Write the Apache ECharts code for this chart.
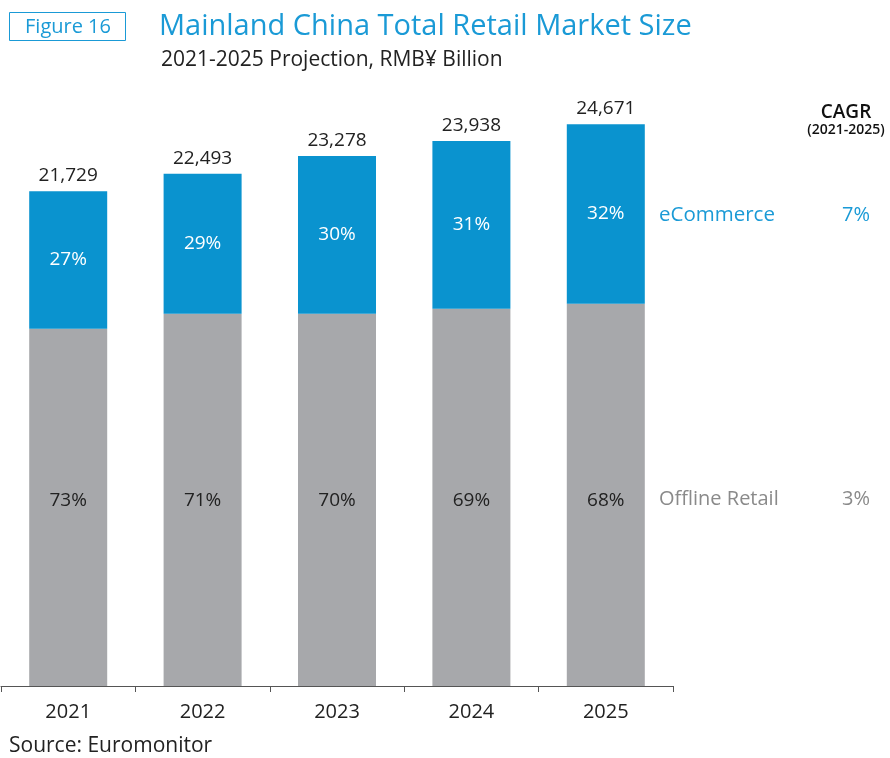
<!DOCTYPE html>
<html><head><meta charset="utf-8">
<script src="https://cdn.jsdelivr.net/npm/echarts@6/dist/echarts.min.js"></script>
<style>html,body{margin:0;padding:0;background:#fff}#c{width:890px;height:758px}</style>
</head><body><div id="c"></div>
<script>
const years = ['2021','2022','2023','2024','2025'];
const totals = [21729, 22493, 23278, 23938, 24671];
const offline = [15690, 16350, 16350, 16570, 16790];
const ecommerce = [6039, 6143, 6928, 7368, 7881];
const ecomShare = ['27%','29%','30%','31%','32%'];
const offlineShare = ['73%','71%','70%','69%','68%'];
const cagr = {eCommerce: '7%', offline: '3%'};

const FONT = '"Open Sans", Lato, sans-serif';
const BLUE = '#0a93cf';
const GRAY = '#a7a8ab';
const chart = echarts.init(document.getElementById('c'));
chart.setOption({
  animation: false,
  textStyle: {fontFamily: FONT},
  grid: {left: 1, right: 217, top: 94, bottom: 72},
  xAxis: {
    type: 'category', data: years,
    axisLine: {lineStyle: {color: '#555', width: 1}},
    axisTick: {show: true, length: 6, lineStyle: {color: '#555'}},
    axisLabel: {color: '#222', fontSize: 20, margin: 16, fontFamily: FONT}
  },
  yAxis: {type: 'value', min: 0, max: 26000, show: false, splitLine: {show: false}},
  series: [
    {
      name: 'Offline Retail', type: 'bar', stack: 't', barWidth: 78,
      data: offline, itemStyle: {color: GRAY},
      label: {show: true, position: 'insideBottom', distance: 176,
        formatter: p => offlineShare[p.dataIndex], color: '#222', fontSize: 19, fontFamily: FONT}
    },
    {
      name: 'eCommerce', type: 'bar', stack: 't', barWidth: 78,
      data: ecommerce, itemStyle: {color: BLUE},
      label: {show: true, position: 'inside',
        formatter: p => ecomShare[p.dataIndex], color: '#fff', fontSize: 19, fontFamily: FONT}
    },
    {
      name: 'total', type: 'bar', stack: 't', barWidth: 78,
      data: totals.map(() => 0), itemStyle: {color: 'transparent'},
      label: {show: true, position: 'top', distance: 6,
        formatter: p => totals[p.dataIndex].toLocaleString('en-US'), color: '#222', fontSize: 19, fontFamily: FONT}
    }
  ],
  graphic: [
    {type: 'rect', shape: {x: 9.5, y: 12.5, width: 116, height: 28}, style: {fill: '#fff', stroke: '#1a9ad6', lineWidth: 1}},
    {type: 'text', x: 68, y: 27, style: {text: 'Figure 16', fill: '#1a9ad6', fontSize: 20, fontFamily: FONT, align: 'center', verticalAlign: 'middle'}},
    {type: 'text', x: 159, y: 27, style: {text: 'Mainland China Total Retail Market Size', fill: '#1a9ad6', fontSize: 29, fontFamily: FONT, verticalAlign: 'middle'}},
    {type: 'text', x: 161, y: 60, style: {text: '2021-2025 Projection, RMB¥ Billion', fill: '#222', fontSize: 21, fontFamily: FONT, verticalAlign: 'middle'}},
    {type: 'text', x: 846, y: 113, style: {text: 'CAGR', fill: '#111', fontSize: 19, fontWeight: 600, fontFamily: FONT, align: 'center', verticalAlign: 'middle'}},
    {type: 'text', x: 846, y: 130, style: {text: '(2021-2025)', fill: '#111', fontSize: 14, fontWeight: 600, fontFamily: FONT, align: 'center', verticalAlign: 'middle'}},
    {type: 'text', x: 659, y: 215, style: {text: 'eCommerce', fill: '#1a9ad6', fontSize: 20.5, fontFamily: FONT, verticalAlign: 'middle'}},
    {type: 'text', x: 856, y: 215, style: {text: cagr.eCommerce, fill: '#1a9ad6', fontSize: 20, fontFamily: FONT, align: 'center', verticalAlign: 'middle'}},
    {type: 'text', x: 659, y: 499, style: {text: 'Offline Retail', fill: '#8a8a8a', fontSize: 20, fontFamily: FONT, verticalAlign: 'middle'}},
    {type: 'text', x: 856, y: 499, style: {text: cagr.offline, fill: '#8a8a8a', fontSize: 20, fontFamily: FONT, align: 'center', verticalAlign: 'middle'}},
    {type: 'text', x: 9, y: 746, style: {text: 'Source: Euromonitor', fill: '#222', fontSize: 21, fontFamily: FONT, verticalAlign: 'middle'}}
  ]
});
</script></body></html>
